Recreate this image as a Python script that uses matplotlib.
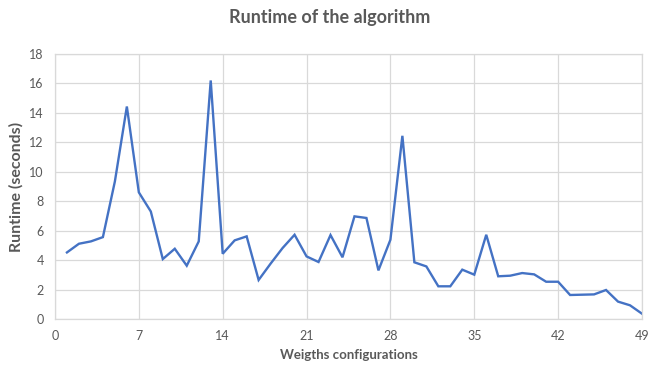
import matplotlib
matplotlib.use('Agg')
import matplotlib.pyplot as plt

# runtime per weights configuration
configs = list(range(1, 50))
runtime = [4.52, 5.11, 5.27, 5.56, 9.34, 14.43, 8.60, 7.30, 4.07, 4.77,
           3.62, 5.27, 16.20, 4.43, 5.34, 5.61, 2.65, 3.76, 4.82, 5.72,
           4.25, 3.87, 5.70, 4.19, 6.97, 6.86, 3.30, 5.38, 12.44, 3.85,
           3.57, 2.22, 2.22, 3.35, 3.01, 5.72, 2.90, 2.94, 3.12, 3.03,
           2.53, 2.53, 1.63, 1.65, 1.67, 1.97, 1.18, 0.93, 0.36]
xticks = [0, 7, 14, 21, 28, 35, 42, 49]
yticks = list(range(0, 19, 2))

plt.rcParams['font.family'] = ['Lato', 'DejaVu Sans']
txt = '#595959'
grid = '#d9d9d9'

fig = plt.figure(figsize=(6.6, 3.72), dpi=100)
ax = fig.add_axes([0.0833, 0.1425, 0.8894, 0.7125])
ax.plot(configs, runtime, color='#4472C4', linewidth=1.7, solid_joinstyle='miter')

ax.set_xlim(0, 49)
ax.set_ylim(0, 18)
ax.set_xticks(xticks)
ax.set_yticks(yticks)
ax.grid(True, color=grid, linewidth=0.9)
ax.set_axisbelow(True)
for s in ax.spines.values():
    s.set_color(grid)
    s.set_linewidth(0.9)
ax.tick_params(length=0, colors=txt, labelsize=9, pad=8)

ax.set_xlabel('Weigths configurations', color=txt, fontsize=9.5, fontweight='bold', labelpad=5)
ax.set_ylabel('Runtime (seconds)', color=txt, fontsize=11.5, fontweight='bold', labelpad=4)
fig.text(0.5, 0.952, 'Runtime of the algorithm', ha='center', va='center',
         color=txt, fontsize=13, fontweight='bold')

fig.savefig('out.png', dpi=100, facecolor='white')
